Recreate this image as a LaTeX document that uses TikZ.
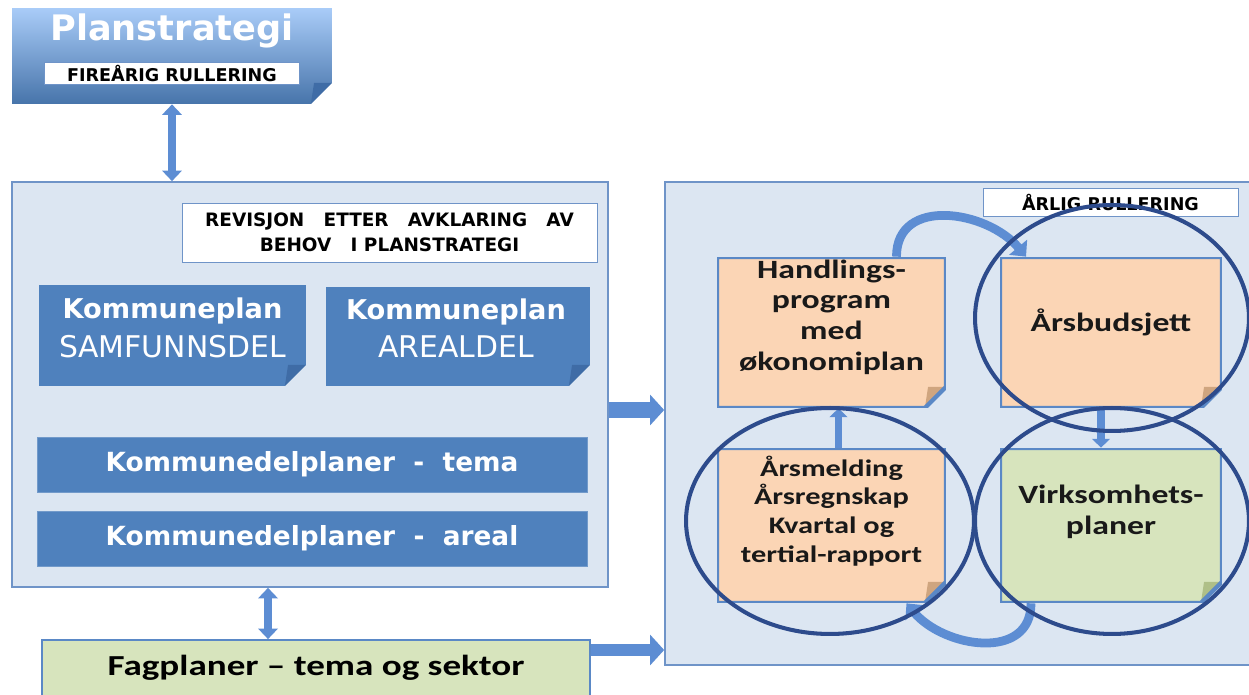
\documentclass[tikz,border=0pt]{standalone}
\usepackage{fontspec}
\setmainfont{Carlito}
\newfontfamily\verd{DejaVu Sans}
\newfontfamily\calw{Carlito}[FakeStretch=1.28]
\usetikzlibrary{arrows.meta}

\definecolor{panelfill}{HTML}{DCE6F2}
\definecolor{paneledge}{HTML}{6F94C8}
\definecolor{planblue}{HTML}{4F81BD}
\definecolor{planfold}{HTML}{3F6CA6}
\definecolor{topblue}{HTML}{A9CCF8}
\definecolor{peach}{HTML}{FBD5B5}
\definecolor{peachfold}{HTML}{CFA57F}
\definecolor{sage}{HTML}{D7E4BD}
\definecolor{sagefold}{HTML}{AFBF88}
\definecolor{noteedge}{HTML}{5A88C6}
\definecolor{arrowblue}{HTML}{5D8DD3}
\definecolor{ringblue}{HTML}{2D4B8C}

\newlength\foldsz
\setlength\foldsz{12pt}

\tikzset{
  corner/.style n args={3}{path picture={
      \coordinate (se) at (path picture bounding box.south east);
      \fill[#1] ([xshift=-\foldsz]se) -- (se) -- ([yshift=\foldsz]se) -- cycle;
      \fill[#3] ([xshift=-\foldsz]se) -- ([xshift=-0.85\foldsz,yshift=\foldsz]se) -- ([yshift=\foldsz]se) -- cycle;
      \draw[#2, line width=2.4pt] (path picture bounding box.north west) -- (path picture bounding box.north east)
        -- ([yshift=\foldsz]se) -- ([xshift=-\foldsz]se) -- (path picture bounding box.south west) -- cycle;
  }},
  panel/.style={draw=paneledge, line width=1pt, fill=panelfill},
  planbox/.style={top color=topblue, bottom color=planblue!90!black, corner={white}{draw opacity=0}{planfold},
    minimum width=6.4cm, minimum height=1.92cm},
  ttl/.style={font=\verd\bfseries\fontsize{20}{24}\selectfont, text=white},
  tag/.style={draw=paneledge, fill=white, inner sep=0pt, font=\verd\bfseries\fontsize{10}{12}\selectfont},
  darkbox/.style={fill=planblue, corner={panelfill}{draw opacity=0}{planfold}},
  kptxt/.style={align=center, text=white, inner sep=0pt},
  kdp/.style={fill=planblue, draw=planblue!80!white, text=white, font=\verd\bfseries\fontsize{15}{17}\selectfont,
    minimum width=11cm, minimum height=1.1cm},
  fagbox/.style={fill=sage, draw=noteedge, line width=1pt, font=\calw\bfseries\fontsize{16.5}{18}\selectfont,
    minimum width=10.96cm, minimum height=1.12cm},
  note/.style 2 args={fill=#1, corner={panelfill}{noteedge}{#2}},
  notetxt/.style={align=center, text=black!90, inner sep=0pt, font=\calw\bfseries\fontsize{15}{17.5}\selectfont},
  dbl/.style={arrowblue, line width=5pt, {Triangle[length=6pt,width=11pt]}-{Triangle[length=6pt,width=11pt]}},
  fatarr/.style={arrowblue, line width=#1, -{Triangle[length=8pt,width=17pt]}},
  bendarr/.style={arrowblue, line width=5pt, -{Triangle[length=7pt,width=13pt]}},
  thinarr/.style={arrowblue, line width=4.5pt, -{Triangle[length=5pt,width=10pt]}},
  ring/.style={draw=ringblue, line width=2.3pt}
}

\begin{document}
\begin{tikzpicture}[x=0.02cm, y=-0.02cm]
\useasboundingbox (0,0) rectangle (1249,695);

% Panels
\node[panel, minimum width=11.92cm, minimum height=8.1cm] (left) at (310,384.5) {};
\node[panel, minimum width=11.9cm, minimum height=9.66cm] (right) at (962.5,423.5) {};

% Planstrategi
\node[planbox] (plan) at (172,56) {};
\node[ttl] (planttl) at (172,31) {Planstrategi};
\node[tag, minimum width=5.1cm, minimum height=0.44cm] (fire) at (172,73) {FIREÅRIG RULLERING};

% Left panel
\node[tag, align=center, minimum width=8.3cm, minimum height=1.18cm, font=\verd\bfseries\fontsize{10.5}{14.5}\selectfont]
  (rev) at (389.5,232.5) {REVISJON~~ ETTER~~ AVKLARING~~ AV\\BEHOV~~ I PLANSTRATEGI};
\node[darkbox, minimum width=5.34cm, minimum height=2.02cm] (kp1) at (172.5,335.5) {};
\node[darkbox, minimum width=5.28cm, minimum height=1.98cm] (kp2) at (458,336.5) {};
\node[kptxt] (kp1t) at (172.5,328) {{\verd\bfseries\fontsize{15.5}{20}\selectfont Kommuneplan}\\[5pt]{\verd\fontsize{17}{20}\selectfont SAMFUNNSDEL}};
\node[kptxt] (kp2t) at (456,328) {{\verd\bfseries\fontsize{15.5}{20}\selectfont Kommuneplan}\\[5pt]{\verd\fontsize{17}{20}\selectfont AREALDEL}};
\node[kdp] (kdt) at (312,464.5) {Kommunedelplaner~ -~ tema};
\node[kdp] (kda) at (312,538.5) {Kommunedelplaner~ -~ areal};
\node[fagbox] (fag) at (316,668) {Fagplaner – tema og sektor};

% Right panel
\node[tag, minimum width=5.1cm, minimum height=0.56cm] (arlig) at (1110.5,202) {ÅRLIG RULLERING};
\node[note={peach}{peachfold}, minimum width=4.58cm, minimum height=3.02cm] (handl) at (831.5,332.5) {};
\node[note={peach}{peachfold}, minimum width=4.44cm, minimum height=3.02cm] (budsj) at (1111,332.5) {};
\node[note={peach}{peachfold}, minimum width=4.58cm, minimum height=3.1cm] (meld) at (831.5,525.5) {};
\node[note={sage}{sagefold}, minimum width=4.44cm, minimum height=3.1cm] (virk) at (1111,525.5) {};
\node[notetxt] (handlt) at (831.5,317) {Handlings-\\program\\med\\økonomiplan};
\node[notetxt] (budsjt) at (1111,322) {Årsbudsjett};
\node[notetxt, font=\calw\bfseries\fontsize{13.5}{16.4}\selectfont] (meldt) at (831.5,511) {Årsmelding\\Årsregnskap\\Kvartal og\\tertial-rapport};
\node[notetxt] (virkt) at (1111,512) {Virksomhets-\\planer};

% Arrows
\draw[dbl] (plan.south) -- (plan.south |- left.north);
\draw[fatarr=9pt] ([yshift=-0.51cm]left.east) -- ([yshift=-0.51cm]left.east -| right.west);
\draw[dbl] ([xshift=-0.84cm]left.south) -- ([xshift=-0.84cm]left.south |- fag.north);
\draw[fatarr=7pt] ([yshift=0.36cm]fag.east) -- ([yshift=0.36cm]fag.east -| right.west);
\draw[bendarr] ([xshift=1.3cm]handl.north) to[out=90, in=130, looseness=1.2] ([xshift=-1.7cm]budsj.north);
\draw[bendarr] ([xshift=-1.6cm]virk.south) to[out=-90, in=-50, looseness=1.2] ([xshift=1.5cm]meld.south);
\draw[thinarr] ([xshift=-0.2cm]budsj.south) -- ([xshift=-0.2cm]virk.north);
\draw[thinarr] ([xshift=0.14cm]meld.north) -- ([xshift=0.14cm]handl.south);

% Rings
\draw[ring] (1112,318) ellipse [x radius=2.74cm, y radius=2.26cm];
\draw[ring] (830,521) ellipse [x radius=2.88cm, y radius=2.26cm];
\draw[ring] (1112,521) ellipse [x radius=2.74cm, y radius=2.26cm];
\end{tikzpicture}
\end{document}
